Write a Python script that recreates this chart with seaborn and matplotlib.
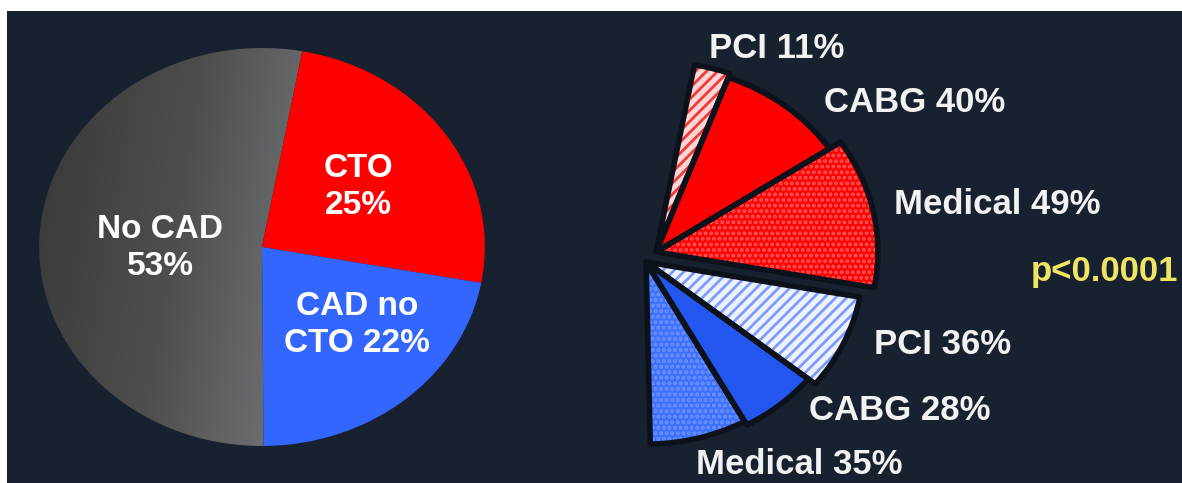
import numpy as np
import matplotlib
matplotlib.use("Agg")
import matplotlib.pyplot as plt
from matplotlib.patches import Wedge
from matplotlib.colors import LinearSegmentedColormap
import seaborn as sns

# data
main_labels = ["CTO\n25%", "CAD no\nCTO 22%", "No CAD\n53%"]
main_pct = [25, 22, 53]

cto_labels = ["PCI 11%", "CABG 40%", "Medical 49%"]
cto_pct = [11, 40, 49]
nocto_labels = ["PCI 36%", "CABG 28%", "Medical 35%"]
nocto_pct = [36, 28, 35]
p_text = "p<0.0001"

sns.set_theme(style="dark")
plt.rcParams["font.family"] = ["Liberation Sans", "DejaVu Sans"]
plt.rcParams["hatch.linewidth"] = 2.0

BG = "#172130"
RED, BLUE = sns.color_palette(["#ff0000", "#3366ff"])
SX = 1.12  # the picture is a bit wider than tall


def px(x, y):
    return (x / SX, 483 - y)


fig = plt.figure(figsize=(11.82, 4.83), dpi=100)
fig.patch.set_facecolor("white")
ax = fig.add_axes([7 / 1182, 0, 1175 / 1182, 472 / 483])
ax.set_facecolor(BG)

# left pie
start = 79.6
wedges, _ = ax.pie(main_pct, colors=[RED, BLUE, "#555555"], startangle=start,
                   counterclock=False, center=px(262, 247), radius=199,
                   frame=True, wedgeprops=dict(linewidth=0))
grey = wedges[2]
grey.set_facecolor("none")
cx, cy = px(262, 247)
gx, gy = np.meshgrid(np.linspace(0, 1, 200), np.linspace(0, 1, 200))
grad = 0.8 * gx + 0.2 * (1 - gy)
cmap = LinearSegmentedColormap.from_list("g", ["#383838", "#4e4e4e", "#76787a"])
im = ax.imshow(grad, extent=[cx - 200, cx + 40, cy - 200, cy + 200], origin="lower",
               cmap=cmap, aspect="auto", zorder=0.5)
im.set_clip_path(grey)

lab_pos = [(358, 187), (357, 325), (160, 248)]
for t, (x, y) in zip(main_labels, lab_pos):
    ax.text(*px(x, y), t, color="white", fontsize=24, fontweight="bold",
            ha="center", va="center", linespacing=1.25)

# right exploded wedges
groups = [
    dict(pct=cto_pct, share=main_pct[0], start=start, center=px(656, 252),
         explode=[29, 18, 14], radii=[190, 186, 198],
         face=["#ffd6d6", RED, RED], hatch=["///", None, "..."],
         hcol=["#f03a3a", None, "#ff5a5a"]),
    dict(pct=nocto_pct, share=main_pct[1], start=start - 360 * main_pct[0] / 100,
         center=px(646, 262), explode=[20, 20, 18], radii=[194, 186, 182],
         face=["#eef2ff", "#2457f0", "#3d70ff"], hatch=["///", None, "..."],
         hcol=["#7c9cff", None, "#6e93ff"]),
]
for g in groups:
    fr = [g["share"] / 100 * p / 100 for p in g["pct"]]
    ws, _ = ax.pie(fr, startangle=g["start"], counterclock=False, normalize=False,
                   center=g["center"], radius=100,
                   explode=[e / 100 for e in g["explode"]], frame=True,
                   wedgeprops=dict(linewidth=0))
    for w, r, fc, h, hc in zip(ws, g["radii"], g["face"], g["hatch"], g["hcol"]):
        w.set_radius(r)
        w.set_facecolor(fc)
        if h:
            w.set_hatch(h)
            w.set_edgecolor(hc)
            w.set_linewidth(0)
        ax.add_patch(Wedge(w.center, r, w.theta1, w.theta2, fill=False,
                           edgecolor="#0c121b", linewidth=4, joinstyle="round",
                           zorder=3))

right_pos = [(777, 48), (915, 102), (997, 205), (943, 345), (900, 410), (799, 465)]
for t, (x, y) in zip(cto_labels + nocto_labels, right_pos):
    ax.text(*px(x, y), t, color="#f2f2f2", fontsize=25, fontweight="bold",
            ha="center", va="center")
ax.text(*px(1031, 272), p_text, color="#efe463", fontsize=25, fontweight="bold",
        ha="left", va="center")

ax.set_xlim(7 / SX, 1182 / SX)
ax.set_ylim(0, 472)
ax.set_aspect("auto")
ax.set_xticks([])
ax.set_yticks([])
for s in ax.spines.values():
    s.set_visible(False)

fig.savefig("out.png", dpi=100, facecolor=fig.get_facecolor())
